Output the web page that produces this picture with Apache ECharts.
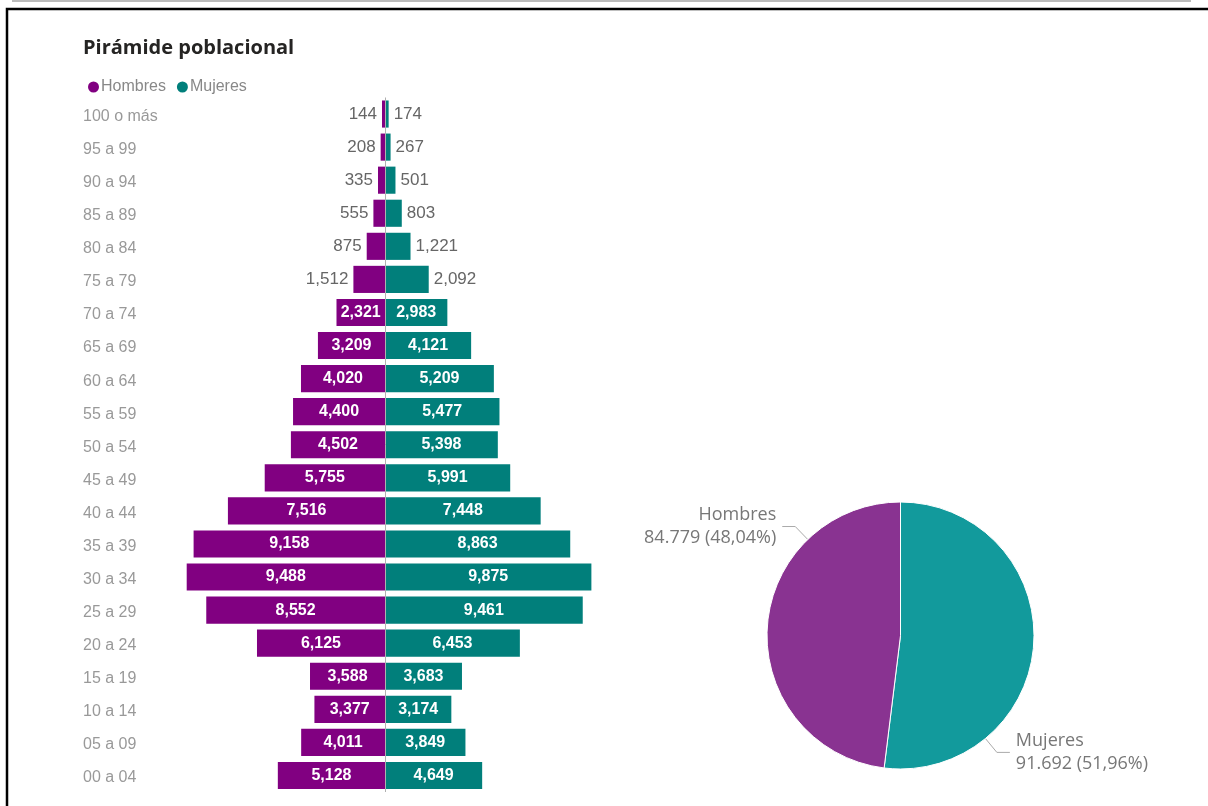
<!DOCTYPE html>
<html>
<head>
<meta charset="utf-8">
<script src="https://cdn.jsdelivr.net/npm/echarts@6/dist/echarts.min.js"></script>
<style>
  html, body { margin: 0; padding: 0; background: #ffffff; }
  #chart { width: 1208px; height: 806px; }
</style>
</head>
<body>
<div id="chart"></div>
<script>
// ---- Data (top row first) ----
const ageGroups = ['100 o más','95 a 99','90 a 94','85 a 89','80 a 84','75 a 79','70 a 74','65 a 69','60 a 64','55 a 59','50 a 54','45 a 49','40 a 44','35 a 39','30 a 34','25 a 29','20 a 24','15 a 19','10 a 14','05 a 09','00 a 04'];
const hombres = [144,208,335,555,875,1512,2321,3209,4020,4400,4502,5755,7516,9158,9488,8552,6125,3588,3377,4011,5128];
const mujeres = [174,267,501,803,1221,2092,2983,4121,5209,5477,5398,5991,7448,8863,9875,9461,6453,3683,3174,3849,4649];
const seriesNames = ['Hombres','Mujeres'];
const axisMax = 10000;

// ---- Styling constants ----
const barColors = ['#810081', '#017F7B'];
const pieColors = ['#129A9C', '#893391']; // Mujeres, Hombres
const insideThreshold = 2200;
const pieCenter = [900.5, 635.5];
const pieRadius = 133.5;
const labelAngles = { 'Mujeres': -50.5, 'Hombres': 134 };
const FONT = '"Liberation Sans", Arial, sans-serif';
const PIEFONT = '"Open Sans", "Noto Sans", sans-serif';

function fmtEn(n) { return String(Math.round(Math.abs(n))).replace(/\B(?=(\d{3})+(?!\d))/g, ','); }
function fmtEs(n) { return String(Math.round(Math.abs(n))).replace(/\B(?=(\d{3})+(?!\d))/g, '.'); }

function barItems(values, sign, side) {
  return values.map(v => {
    const inside = v >= insideThreshold;
    return {
      value: sign * v,
      label: inside
        ? { position: 'inside', color: '#ffffff', fontWeight: 'bold', fontSize: 16 }
        : { position: side, color: '#666666', fontWeight: 'normal', fontSize: 17, distance: 5 }
    };
  });
}

const totalH = hombres.reduce((a, b) => a + b, 0);
const totalM = mujeres.reduce((a, b) => a + b, 0);
const totalAll = totalH + totalM;

const chart = echarts.init(document.getElementById('chart'), null, { renderer: 'canvas' });

const option = {
  animation: false,
  backgroundColor: '#ffffff',
  title: {
    text: 'Pirámide poblacional',
    left: 78, top: 33,
    textStyle: { fontFamily: '"Open Sans", sans-serif', fontWeight: 'bold', fontSize: 20, color: '#252423' }
  },
  legend: {
    data: seriesNames,
    left: 83, top: 74,
    icon: 'circle', itemWidth: 11, itemHeight: 11, itemGap: 11,
    textStyle: { fontFamily: FONT, fontSize: 16, color: '#888888', padding: [0, 0, 0, -3] }
  },
  grid: { left: 176, right: 1208 - 594, top: 97.5, bottom: 14, containLabel: false },
  xAxis: { type: 'value', min: -axisMax, max: axisMax, show: false },
  yAxis: {
    type: 'category', data: ageGroups, inverse: true,
    axisLine: { show: false }, axisTick: { show: false }, splitLine: { show: false },
    axisLabel: { interval: 0, align: 'left', verticalAlign: 'top', lineHeight: 5, margin: 93, color: '#999999', fontSize: 16, fontFamily: FONT }
  },
  graphic: [
    { type: 'rect', silent: true, shape: { x: 13, y: -10, width: 1177, height: 11 }, style: { fill: 'none', stroke: '#bbbbbb', lineWidth: 2 } },
    { type: 'rect', silent: true, shape: { x: 7, y: 9, width: 1400, height: 1000 }, style: { fill: 'none', stroke: '#000000', lineWidth: 2.5 } }
  ],
  series: [
    {
      name: seriesNames[0], type: 'bar', data: barItems(hombres, -1, 'left'),
      barWidth: '82%', barGap: '-100%',
      itemStyle: { color: barColors[0] },
      label: { show: true, fontFamily: FONT, formatter: p => fmtEn(p.value) },
      markLine: {
        silent: true, symbol: 'none', label: { show: false },
        lineStyle: { color: '#b0b0b0', width: 1, type: 'solid' },
        data: [{ xAxis: 0 }]
      }
    },
    {
      name: seriesNames[1], type: 'bar', data: barItems(mujeres, 1, 'right'),
      barWidth: '82%', barGap: '-100%',
      itemStyle: { color: barColors[1] },
      label: { show: true, fontFamily: FONT, formatter: p => fmtEn(p.value) }
    },
    {
      name: 'Total', type: 'pie', center: pieCenter, radius: pieRadius,
      startAngle: 90, clockwise: true,
      itemStyle: { borderColor: '#ffffff', borderWidth: 1 },
      data: [
        { name: 'Mujeres', value: totalM, itemStyle: { color: pieColors[0] } },
        { name: 'Hombres', value: totalH, itemStyle: { color: pieColors[1] } }
      ],
      label: {
        show: true, fontFamily: PIEFONT, fontSize: 18, lineHeight: 23, color: '#777777',
        formatter: p => p.name + '\n' + fmtEs(p.value) + ' (' + (p.value / totalAll * 100).toFixed(2).replace('.', ',') + '%)'
      },
      labelLine: { show: true, length: 15, length2: 12, lineStyle: { color: '#aaaaaa', width: 1 } },
      labelLayout: function (p) {
        const name = p.dataIndex === 0 ? 'Mujeres' : 'Hombres';
        const a = labelAngles[name] * Math.PI / 180;
        const cx = pieCenter[0], cy = pieCenter[1];
        const e = [cx + pieRadius * Math.cos(a), cy - pieRadius * Math.sin(a)];
        const k = [cx + (pieRadius + 18) * Math.cos(a), cy - (pieRadius + 18) * Math.sin(a)];
        const dir = Math.cos(a) >= 0 ? 1 : -1;
        const end = [k[0] + dir * 13, k[1]];
        return {
          x: end[0] + dir * 6, y: end[1],
          align: dir > 0 ? 'left' : 'right', verticalAlign: 'middle',
          labelLinePoints: [e, k, end]
        };
      }
    }
  ]
};
chart.setOption(option);
</script>
</body>
</html>
